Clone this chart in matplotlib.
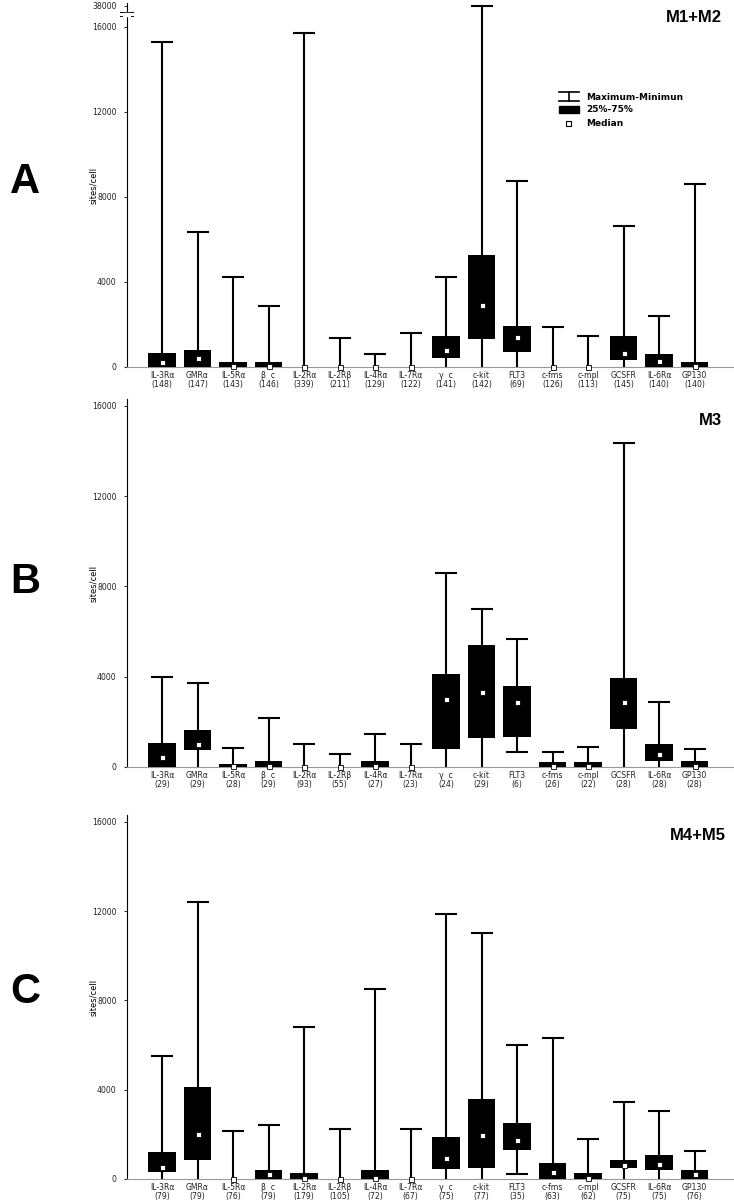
import matplotlib
matplotlib.use("Agg")
import matplotlib.pyplot as plt
from matplotlib.lines import Line2D
from matplotlib.patches import Rectangle

plt.rcParams['font.family'] = ['DejaVu Sans']

labels = ['IL-3Rα', 'GMRα', 'IL-5Rα', 'β  c', 'IL-2Rα', 'IL-2Rβ', 'IL-4Rα', 'IL-7Rα',
          'γ  c', 'c-kit', 'FLT3', 'c-fms', 'c-mpl', 'GCSFR', 'IL-6Rα', 'GP130']

# panel A  (M1+M2)
a_n = [148, 147, 143, 146, 339, 211, 129, 122, 141, 142, 69, 126, 113, 145, 140, 140]
a_max = [15300, 6330, 4220, 2890, 15700, 1380, 630, 1600, 4250, 38000, 8750, 1870, 1470, 6650, 2400, 8600]
a_min = [0, 0, 0, 0, 0, 0, 0, 0, 0, 0, 0, 0, 0, 0, 0, 0]
a_q1 = [0, 0, 0, 0, 0, 0, 0, 0, 440, 1320, 690, 0, 0, 330, 0, 0]
a_q3 = [640, 800, 250, 250, 0, 0, 0, 0, 1440, 5290, 1945, 0, 0, 1470, 610, 250]
a_med = [250, 410, 40, 40, 0, 0, 0, 0, 815, 2930, 1410, 0, 0, 640, 300, 30]

# panel B  (M3)
b_n = [29, 29, 28, 29, 93, 55, 27, 23, 24, 29, 6, 26, 22, 28, 28, 28]
b_max = [4000, 3720, 840, 2170, 1030, 560, 1480, 1000, 8600, 7000, 5670, 660, 880, 14350, 2880, 780]
b_min = [0, 0, 0, 0, 0, 0, 0, 0, 0, 0, 650, 0, 0, 0, 0, 0]
b_q1 = [0, 750, 0, 0, 0, 0, 0, 0, 800, 1300, 1350, 0, 0, 1700, 280, 0]
b_q3 = [1080, 1640, 120, 250, 0, 0, 265, 0, 4100, 5400, 3600, 220, 230, 3940, 1020, 280]
b_med = [430, 1020, 30, 30, 0, 0, 30, 0, 3000, 3300, 2900, 30, 30, 2880, 560, 30]

# panel C  (M4+M5)
c_n = [79, 79, 76, 79, 179, 105, 72, 67, 75, 77, 35, 63, 62, 75, 75, 76]
c_max = [5500, 12400, 2150, 2400, 6800, 2250, 8500, 2250, 11850, 11000, 6000, 6300, 1800, 3450, 3050, 1265]
c_min = [0, 0, 0, 0, 0, 0, 0, 0, 0, 0, 210, 0, 0, 0, 0, 0]
c_q1 = [310, 850, 0, 0, 0, 0, 0, 0, 450, 475, 1300, 0, 0, 475, 385, 0]
c_q3 = [1200, 4100, 0, 400, 250, 0, 385, 0, 1900, 3600, 2500, 715, 270, 865, 1075, 385]
c_med = [540, 2000, 0, 220, 50, 0, 50, 0, 920, 1950, 1750, 330, 50, 640, 655, 220]

W, H = 734, 1201
fig = plt.figure(figsize=(W / 100, H / 100), dpi=100)


def fx(x):
    return x / W


def fy(y):
    return 1 - y / H


def brk(v):
    # compress values above 16000 (broken axis in panel A)
    return v if v <= 16000 else 16000 + (v - 16000) * 990 / 22000


def panel(bottom_px, top_px, ymax, vmax, vmin, q1, q3, med, ns, f=lambda v: v):
    ax = fig.add_axes([fx(127), fy(bottom_px), fx(733 - 127), (bottom_px - top_px) / H])
    x = list(range(1, 17))
    ax.vlines(x, [f(v) for v in vmin], [f(v) for v in vmax], color='black', lw=1.5, zorder=2)
    ax.hlines([f(v) for v in vmax], [i - 0.31 for i in x], [i + 0.31 for i in x],
              color='black', lw=1.5, zorder=2)
    for i, v in zip(x, vmin):
        if v > 0:
            ax.hlines(v, i - 0.31, i + 0.31, color='black', lw=1.5, zorder=2)
    ax.bar(x, [b - a for a, b in zip(q1, q3)], bottom=q1, width=0.77, color='black', zorder=3)
    ax.plot(x, med, 's', ms=3.6, mfc='white', mec='black', mew=0.6, zorder=4, clip_on=False)
    ax.set_xlim(0.014, 17.08)
    ax.set_ylim(0, ymax)
    ax.spines['top'].set_visible(False)
    ax.spines['right'].set_visible(False)
    ax.spines['bottom'].set_color('#999999')
    ax.spines['left'].set_linewidth(0.8)
    ax.set_xticks(x)
    ax.set_xticklabels(['%s\n(%d)' % (l, n) for l, n in zip(labels, ns)], fontsize=5.6,
                       linespacing=0.95, color='#222222')
    ax.tick_params(axis='x', length=0, pad=3)
    ax.tick_params(axis='y', length=2.5, width=0.6, labelsize=5.6, pad=5, labelcolor='#222222')
    ax.set_yticks([0, 4000, 8000, 12000, 16000])
    ax.set_ylabel('sites/cell', fontsize=6, labelpad=12)
    return ax


axA = panel(367, 3, 17129, a_max, a_min, a_q1, a_q3, a_med, a_n, f=brk)
axA.set_yticks([0, 4000, 8000, 12000, 16000, brk(38000)])
axA.set_yticklabels(['0', '4000', '8000', '12000', '16000', '38000'])
axA.yaxis.set_label_coords(-0.048, 0.5)
# break mark on the y axis
for yy in (16520, 16700):
    axA.plot([-0.17, 0.17], [yy, yy], color='black', lw=0.7, clip_on=False, zorder=5)
axA.add_patch(Rectangle((-0.1, 16540), 0.2, 140, color='white', clip_on=False, zorder=6))

axB = panel(767, 399, 16300, b_max, b_min, b_q1, b_q3, b_med, b_n)
axB.yaxis.set_label_coords(-0.048, 0.5)
axC = panel(1179, 815, 16300, c_max, c_min, c_q1, c_q3, c_med, c_n)
axC.yaxis.set_label_coords(-0.048, 0.5)

# big panel letters and group titles
for s, y in (('A', 182), ('B', 582), ('C', 992)):
    fig.text(fx(25), fy(y), s, fontsize=30, fontweight='bold', ha='center', va='center',
             family='Liberation Sans')
for s, x, y in (('M1+M2', 722, 17), ('M3', 722, 420), ('M4+M5', 726, 835)):
    fig.text(fx(x), fy(y), s, fontsize=12, fontweight='bold', ha='right', va='center',
             family='Liberation Sans')

# legend
lk = dict(color='black', transform=fig.transFigure)
fig.add_artist(Line2D([fx(559), fx(579)], [fy(92), fy(92)], lw=1.2, **lk))
fig.add_artist(Line2D([fx(569), fx(569)], [fy(92), fy(101)], lw=1.2, **lk))
fig.add_artist(Line2D([fx(559), fx(579)], [fy(101), fy(101)], lw=1.2, **lk))
fig.add_artist(Rectangle((fx(559), fy(113)), fx(20), 7 / H, color='black',
                         transform=fig.transFigure))
fig.add_artist(Rectangle((fx(566), fy(126)), fx(5), 5 / H, fc='white', ec='black', lw=0.8,
                         transform=fig.transFigure))
for s, y in (('Maximum-Minimun', 98), ('25%-75%', 110), ('Median', 123)):
    fig.text(fx(586), fy(y), s, fontsize=6.5, fontweight='bold', ha='left', va='center')

fig.savefig('out.png', dpi=100)
